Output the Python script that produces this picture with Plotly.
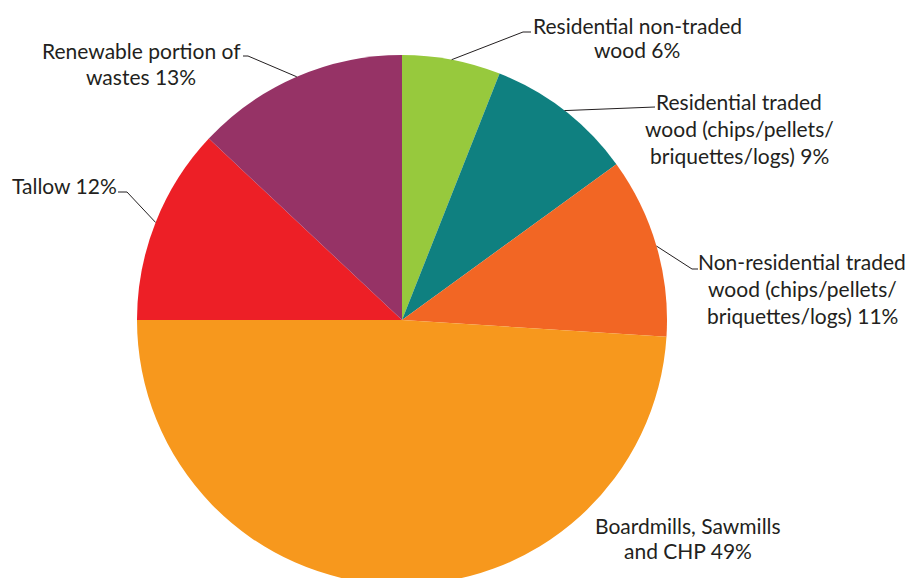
import math
import plotly.graph_objects as go

# --- data -------------------------------------------------------------
categories = [
    "Residential non-traded wood",
    "Residential traded wood (chips/pellets/briquettes/logs)",
    "Non-residential traded wood (chips/pellets/briquettes/logs)",
    "Boardmills, Sawmills and CHP",
    "Tallow",
    "Renewable portion of wastes",
]
shares = [6, 9, 11, 49, 12, 13]
label_lines = [
    ["Residential non-traded", "wood 6%"],
    ["Residential traded", "wood (chips/pellets/", "briquettes/logs) 9%"],
    ["Non-residential traded", "wood (chips/pellets/", "briquettes/logs) 11%"],
    ["Boardmills, Sawmills", "and CHP 49%"],
    ["Tallow 12%"],
    ["Renewable portion of", "wastes 13%"],
]
colors = ["#97c93d", "#0f8080", "#f26624", "#f7981d", "#ed1f26", "#963366"]

# --- layout constants (pixels) -----------------------------------------
W, H = 908, 590
CX, CY, R = 402, 320, 265
FONT = "Lato"
FS = 21
TEXT_COLOR = "#231f20"

# label block: centre x, first baseline y, line gap
label_pos = [
    (637, 32, 24),
    (739, 108, 27),
    (802, 268, 27),
    (688, 532, 25),
    (64, 192, 0),
    (141, 57, 26),
]
# leader line: elbow point and end point next to the text (None = no leader)
leaders = [
    ((523, 32), (531, 32)),
    ((655, 107), (655, 107)),
    ((692, 269), (698, 269)),
    None,
    ((127, 192), (118, 192)),
    ((248, 56), (243, 56)),
]


def px_x(x):
    return x / W


def px_y(y):
    return 1 - y / H


fig = go.Figure(
    go.Pie(
        labels=categories,
        values=shares,
        sort=False,
        direction="clockwise",
        rotation=0,
        marker=dict(colors=colors, line=dict(width=0)),
        textinfo="none",
        hoverinfo="label+percent",
        showlegend=False,
        domain=dict(
            x=[px_x(CX - R), px_x(CX + R)],
            y=[px_y(CY + R), px_y(CY - R)],
        ),
    )
)

# anchor points on the rim at each slice's mid angle
total = sum(shares)
cum = 0
anchors = []
for v in shares:
    theta = 2 * math.pi * (cum + v / 2) / total
    anchors.append((CX + R * math.sin(theta), CY - R * math.cos(theta)))
    cum += v

annotations = []
shapes = []
for lines, (lx, base, gap), lead, (ax, ay) in zip(label_lines, label_pos, leaders, anchors):
    for i, line in enumerate(lines):
        yb = base + i * gap
        annotations.append(
            dict(
                text=line,
                x=px_x(lx),
                y=px_y(yb - 0.33 * FS),
                xref="paper",
                yref="paper",
                xanchor="center",
                yanchor="middle",
                showarrow=False,
                font=dict(family=FONT, size=FS, color=TEXT_COLOR),
            )
        )
    if lead is not None:
        (ex, ey), (tx, ty) = lead
        path = (
            f"M {px_x(ax)},{px_y(ay)} L {px_x(ex)},{px_y(ey)} "
            f"L {px_x(tx)},{px_y(ty)}"
        )
        shapes.append(
            dict(
                type="path",
                path=path,
                xref="paper",
                yref="paper",
                line=dict(color=TEXT_COLOR, width=1),
            )
        )

fig.update_layout(
    width=W,
    height=H,
    margin=dict(l=0, r=0, t=0, b=0),
    paper_bgcolor="white",
    plot_bgcolor="white",
    annotations=annotations,
    shapes=shapes,
)

fig.write_html(
    "out.html",
    post_script="document.body.style.margin='0';document.body.style.overflow='hidden';",
)
